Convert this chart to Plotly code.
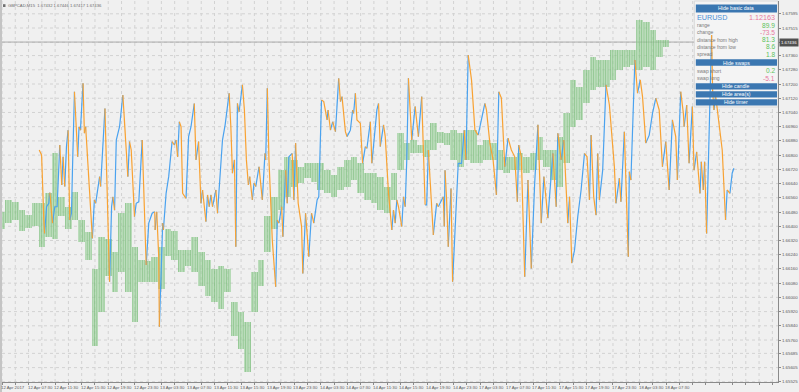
import plotly.graph_objects as go

# ---------------- data ----------------
# hourly bar envelope of GBPCAD (x = hours since 12 Apr 03:30, weekend removed)
bar_hours = list(range(101))
bar_high = [1.66483,1.66550,1.66539,1.66494,1.66466,1.66533,1.66533,1.66589,1.66814,1.66567,
            1.66511,1.66595,1.66438,1.66365,1.66157,1.66342,1.66326,1.66253,1.66477,1.66533,
            1.66286,1.66213,1.66202,1.66225,1.66286,1.66382,1.66371,1.66269,1.66269,1.66342,
            1.66253,1.66213,1.66157,1.66174,1.66157,1.65972,1.65916,1.65860,1.66140,1.66213,
            1.66455,1.66567,1.66719,1.66792,1.66775,1.66735,1.66758,1.66758,1.66758,1.66719,
            1.66691,1.66735,1.66775,1.66792,1.66758,1.66702,1.66702,1.66679,1.66623,1.66702,
            1.66926,1.66870,1.66887,1.66859,1.66887,1.66982,1.66932,1.66926,1.66943,1.66926,
            1.66943,1.66943,1.66859,1.66887,1.66870,1.66831,1.66792,1.66792,1.66814,1.66792,
            1.66814,1.66904,1.66831,1.66831,1.66904,1.67039,1.67224,1.67185,1.67280,1.67353,
            1.67336,1.67336,1.67392,1.67392,1.67392,1.67392,1.67561,1.67549,1.67505,1.67448,
            1.67448]
bar_low = [1.66382,1.66421,1.66438,1.66371,1.66393,1.66399,1.66281,1.66342,1.66326,1.66455,
           1.66382,1.66438,1.66314,1.66213,1.65725,1.65916,1.66118,1.66028,1.66140,1.66028,
           1.65860,1.66084,1.66084,1.66084,1.66045,1.66230,1.66213,1.66140,1.66174,1.66140,
           1.66062,1.66006,1.65972,1.65933,1.66028,1.65781,1.65708,1.65579,1.65916,1.66062,
           1.66253,1.66382,1.66494,1.66567,1.66623,1.66646,1.66674,1.66651,1.66606,1.66589,
           1.66567,1.66606,1.66623,1.66662,1.66589,1.66550,1.66533,1.66494,1.66477,1.66550,
           1.66719,1.66775,1.66814,1.66814,1.66792,1.66831,1.66870,1.66859,1.66775,1.66735,
           1.66775,1.66758,1.66758,1.66775,1.66775,1.66719,1.66702,1.66719,1.66719,1.66702,
           1.66719,1.66775,1.66735,1.66662,1.66623,1.66758,1.66960,1.66999,1.67095,1.67168,
           1.67185,1.67185,1.67224,1.67280,1.67297,1.67308,1.67280,1.67297,1.67280,1.67353,
           1.67409]

# overlay oscillator (EURUSD), 0-100 scale
osc_x = [5.60,5.96,6.30,6.41,6.71,7.05,7.20,7.50,7.61,7.95,8.30,8.70,9.00,9.20,9.45,9.71,9.95,10.20,10.46,10.61,
         10.91,11.10,11.40,11.60,11.81,12.20,12.41,12.60,12.80,13.10,13.61,13.91,14.10,14.70,14.85,15.30,15.50,15.80,16.20,16.50,
         16.70,16.95,17.21,17.70,18.20,18.60,18.95,19.20,19.46,19.95,20.21,20.60,21.11,21.30,21.71,22.10,22.61,23.00,23.06,23.30,
         23.60,23.70,23.96,24.20,24.30,24.71,25.10,25.61,25.95,26.21,26.45,26.70,26.96,27.20,27.71,28.10,28.46,28.95,29.21,29.60,
         29.96,30.20,30.71,30.95,31.20,31.46,31.70,32.21,32.45,32.70,33.20,33.60,34.20,34.46,34.70,35.00,35.21,35.45,35.70,36.20,
         36.50,36.80,37.10,37.31,37.70,37.95,38.21,38.70,39.20,39.60,39.71,39.95,40.20,40.70,41.21,41.45,41.70,42.11,42.30,42.71,
         42.95,43.20,43.70,43.95,44.21,44.60,45.11,45.30,45.71,46.20,46.61,46.95,47.45,47.70,48.11,48.45,48.95,49.10,49.46,49.80,
         50.21,50.70,50.96,51.20,51.71,51.95,52.46,52.80,52.95,53.21,53.45,53.96,54.30,54.71,54.95,55.46,55.70,56.45,56.70,56.96,
         57.45,57.71,58.20,58.70,58.95,59.21,59.45,59.70,60.20,60.45,60.71,60.95,61.20,61.70,62.21,62.70,63.20,63.45,63.71,63.95,
         64.20,64.70,64.95,65.45,65.70,66.45,66.60,66.71,66.95,67.20,67.61,67.85,68.21,68.70,69.20,69.60,69.86,70.20,70.70,71.21,
         71.70,72.71,72.95,73.46,73.95,74.45,74.81,75.20,75.71,76.20,76.70,77.21,77.60,77.81,78.20,78.71,79.20,79.70,80.21,80.70,
         81.20,81.60,82.20,82.95,83.45,83.70,84.20,84.60,85.20,85.46,85.80,86.21,86.70,87.20,87.71,88.10,88.46,88.70,89.10,89.45,
         89.70,89.96,90.45,90.95,91.46,92.21,92.45,92.96,93.20,93.71,94.10,94.31,94.46,94.70,95.21,95.30,95.70,96.11,96.45,96.95,
         97.46,97.95,98.45,98.96,99.45,99.95,100.46,100.95,101.45,101.70,102.20,102.60,102.71,103.10,103.46,103.95,104.21,104.60,105.11,105.30,
         105.60,105.80,106.10,106.85,107.00,107.21,107.45,107.96,108.45,108.95,109.20,109.61,109.95,110.21]
osc_v = [60.9,59.6,42.5,39.0,46.0,46.9,49.7,43.4,41.7,46.0,46.0,62.2,51.7,59.1,51.3,61.8,66.1,42.5,44.3,55.6,
         76.2,68.8,59.1,67.0,66.1,78.4,65.3,67.0,61.8,53.0,37.7,47.8,46.9,53.9,51.3,67.0,71.8,53.9,26.3,46.0,
         48.6,45.1,63.5,67.0,75.3,65.3,53.9,63.1,60.9,43.4,46.9,47.3,63.5,53.0,30.7,41.7,44.3,44.7,39.9,44.7,
         32.9,14.5,32.0,41.7,39.9,49.5,53.9,63.1,62.2,63.5,59.1,68.3,67.0,49.5,48.2,64.4,67.0,73.1,58.3,63.1,
         46.9,50.4,42.1,49.1,46.0,49.1,46.0,50.4,44.3,51.3,63.5,67.5,75.8,67.0,54.8,58.3,35.5,73.1,70.9,78.0,
         71.4,58.3,51.7,53.9,47.8,52.2,51.3,56.5,47.8,60.0,58.3,77.1,58.3,37.3,25.0,42.5,41.7,46.0,38.1,55.6,
         46.9,59.1,60.0,47.8,62.7,46.9,40.8,28.5,44.3,32.9,44.3,41.7,47.8,48.6,74.0,73.6,68.8,71.4,66.1,68.3,
         65.7,79.7,73.6,74.9,65.7,64.4,66.1,71.4,70.5,75.8,68.8,67.9,57.4,61.8,61.3,68.3,57.4,71.4,73.1,61.8,
         67.5,64.4,49.5,39.9,45.1,41.7,47.8,46.0,40.8,48.6,46.0,58.3,79.7,63.5,72.3,64.4,74.9,58.3,46.5,46.5,
         60.9,47.8,38.6,46.9,46.0,48.6,40.8,55.6,47.8,35.5,50.8,26.3,39.0,57.4,57.4,66.1,58.3,85.8,79.3,66.1,
         64.8,73.1,71.4,62.7,58.3,49.1,76.2,74.5,56.5,64.0,60.9,59.1,47.3,62.2,59.1,27.6,53.0,29.8,52.2,67.5,
         41.7,53.9,43.0,60.0,46.0,65.3,58.3,63.5,41.7,48.6,31.2,34.6,43.4,50.4,60.0,59.1,47.8,64.8,48.6,43.8,
         60.0,47.8,55.6,78.0,72.7,56.5,46.9,53.5,47.3,65.7,46.9,32.9,55.2,53.0,81.9,84.5,75.8,79.3,74.9,62.7,
         64.8,70.5,74.5,71.4,56.5,63.1,50.4,68.8,64.4,53.0,76.2,70.5,67.0,72.7,57.4,72.3,55.6,60.4,49.5,57.8,
         50.4,57.8,39.0,91.1,76.6,71.4,75.3,67.9,60.9,42.5,50.4,49.5,54.8,56.1]

time_labels = ["12 Apr 2017","12 Apr 07:30","12 Apr 11:30","12 Apr 15:30","12 Apr 19:30","12 Apr 23:30",
               "13 Apr 03:30","13 Apr 07:30","13 Apr 11:30","13 Apr 15:30","13 Apr 19:30","13 Apr 23:30",
               "14 Apr 03:30","14 Apr 07:30","14 Apr 11:30","14 Apr 15:30","14 Apr 19:30","14 Apr 23:30",
               "17 Apr 03:30","17 Apr 07:30","17 Apr 11:30","17 Apr 15:30","17 Apr 19:30","17 Apr 23:30",
               "18 Apr 03:30","18 Apr 07:30"]
time_label_hours = [4 * k for k in range(len(time_labels))]
grid_hours = list(range(0, 118, 2))

price_ticks = [1.67595,1.67515,1.67435,1.67360,1.67280,1.67200,1.67120,1.67040,1.66960,1.66880,
               1.66800,1.66720,1.66640,1.66560,1.66480,1.66400,1.66320,1.66240,1.66160,1.66080,
               1.66000,1.65920,1.65840,1.65760,1.65685,1.65605,1.65525]
price_tick_text = ["%.5f" % p for p in price_ticks]
price_tick_text[2] = ""
last_price = 1.67436

panel_rows = [("range", "89.9", "g"), ("change", "-73.5", "r"), ("distance from high", "81.3", "g"),
              ("distance from low", "8.6", "g"), ("spread", "1.8", "g")]
swap_rows = [("swap short", "0.2", "g"), ("swap long", "-5.1", "r")]

# ---------------- figure ----------------
W, H = 799, 392
ML, MR, MT, MB = 2, 18, 1, 10
PW, PH = W - ML - MR, H - MT - MB


def PX(px):
    return (px - ML) / PW


def PY(py):
    return (H - MB - py) / PH


BG = "#f0f0f0"
BLUE = "#4aa2ef"
ORANGE = "#f8a233"
GREEN_TXT = "#5cc25c"
PINK_TXT = "#e7799f"
BTN = "#3b77b1"
GRID = "#d2d2d2"
FONT = "Liberation Sans"

fig = go.Figure()

fig.add_trace(go.Bar(
    x=bar_hours, base=bar_low, y=[h - l for h, l in zip(bar_high, bar_low)],
    width=1.0,
    marker=dict(color="rgba(160,212,160,0.6)", line=dict(width=0),
                pattern=dict(shape="|", fgcolor="rgba(88,170,88,0.9)", bgcolor="rgba(160,212,160,0.6)",
                             size=2.4, solidity=0.4, fillmode="overlay")),
    showlegend=False, hoverinfo="skip"))

# colour the oscillator by direction: rising = blue, falling = orange
runs = []
for i in range(len(osc_x) - 1):
    up = osc_v[i + 1] >= osc_v[i]
    if runs and runs[-1][0] == up:
        runs[-1][1].append(i + 1)
    else:
        runs.append([up, [i, i + 1]])
bx, by, ox, oy = [], [], [], []
for up, idx in runs:
    tx, ty = (bx, by) if up else (ox, oy)
    tx += [osc_x[j] for j in idx] + [None]
    ty += [osc_v[j] for j in idx] + [None]
fig.add_trace(go.Scatter(x=bx, y=by, mode="lines", yaxis="y2",
                         line=dict(color=BLUE, width=1.2), showlegend=False, hoverinfo="skip"))
fig.add_trace(go.Scatter(x=ox, y=oy, mode="lines", yaxis="y2",
                         line=dict(color=ORANGE, width=1.2), showlegend=False, hoverinfo="skip"))

shapes = []
annotations = []

# dotted grid (drawn as shapes so that the panel can cover it)
for gx in grid_hours:
    shapes.append(dict(type="line", xref="x", yref="paper", x0=gx, x1=gx, y0=0, y1=1,
                       line=dict(color=GRID, width=1, dash="dot"), layer="below"))
for gy in price_ticks:
    shapes.append(dict(type="line", xref="paper", yref="y", x0=0, x1=1, y0=gy, y1=gy,
                       line=dict(color=GRID, width=1, dash="dot"), layer="below"))

# current price line
shapes.append(dict(type="line", xref="paper", x0=0, x1=1, yref="y", y0=last_price, y1=last_price,
                   line=dict(color="#ababab", width=1), layer="below"))
# left border
shapes.append(dict(type="rect", xref="paper", yref="paper", x0=PX(0), x1=PX(2), y0=PY(392), y1=PY(0),
                   fillcolor="#c4c4c4", line=dict(width=0)))

# info panel
shapes.append(dict(type="rect", xref="paper", yref="paper", x0=PX(697), x1=PX(781), y0=PY(107), y1=PY(1),
                   fillcolor="#f4f4f4", line=dict(color="#dadada", width=1), layer="below"))


def button(text, y0, y1):
    shapes.append(dict(type="rect", xref="paper", yref="paper", x0=PX(698.5), x1=PX(780), y0=PY(y1), y1=PY(y0),
                       fillcolor=BTN, line=dict(width=0), layer="above"))
    annotations.append(dict(xref="paper", yref="paper", x=PX(739), y=PY((y0 + y1) / 2), text=text,
                            showarrow=False, font=dict(family=FONT, size=5.2, color="white"),
                            xanchor="center", yanchor="middle", borderpad=0))


button("Hide basic data", 4.5, 12.5)
annotations.append(dict(xref="paper", yref="paper", x=PX(699), y=PY(17.5), text="EURUSD", showarrow=False,
                        font=dict(family=FONT, size=7.2, color="#4b8fd6"), xanchor="left", yanchor="middle",
                        borderpad=0))
annotations.append(dict(xref="paper", yref="paper", x=PX(779), y=PY(17.5), text="1.12163", showarrow=False,
                        font=dict(family=FONT, size=7.2, color=PINK_TXT), xanchor="right", yanchor="middle",
                        borderpad=0))


def row(label, value, col, py):
    annotations.append(dict(xref="paper", yref="paper", x=PX(699), y=PY(py), text=label, showarrow=False,
                            font=dict(family=FONT, size=5, color="#7a7a7a"), xanchor="left",
                            yanchor="middle", borderpad=0))
    annotations.append(dict(xref="paper", yref="paper", x=PX(779), y=PY(py), text=value, showarrow=False,
                            font=dict(family=FONT, size=6.6, color=GREEN_TXT if col == "g" else PINK_TXT),
                            xanchor="right", yanchor="middle", borderpad=0))


for k, (lab, val, col) in enumerate(panel_rows):
    row(lab, val, col, 25 + 7.3 * k)
button("Hide swaps", 59.3, 65.7)
for k, (lab, val, col) in enumerate(swap_rows):
    row(lab, val, col, 70.7 + 7.6 * k)
button("Hide candle", 83.3, 89.5)
button("Hide area(s)", 91.3, 97.5)
button("Hide timer", 99.2, 105.5)

# price tag on axis
annotations.append(dict(xref="paper", yref="y", x=PX(782), y=last_price, text="1.67436", showarrow=False,
                        font=dict(family=FONT, size=4.3, color="white"), bgcolor="#505050",
                        xanchor="left", yanchor="middle", borderpad=1))
# chart caption
shapes.append(dict(type="rect", xref="paper", yref="paper", x0=PX(3), x1=PX(5.5), y0=PY(7), y1=PY(4.2),
                   fillcolor="#707070", line=dict(width=0)))
annotations.append(dict(xref="paper", yref="paper", x=PX(7), y=PY(5.6),
                        text="GBPCAD,M15  1.67432 1.67446 1.67417 1.67436", showarrow=False,
                        font=dict(family=FONT, size=4.2, color="#6a6a6a"), xanchor="left", yanchor="middle",
                        borderpad=0))
# time labels
for hx, lab in zip(time_label_hours, time_labels):
    annotations.append(dict(xref="x", yref="paper", x=hx, y=0, text=lab, showarrow=False,
                            font=dict(family=FONT, size=4.3, color="#5a5a5a"), xanchor="left", yanchor="top",
                            xshift=-2, yshift=-2, borderpad=0))

fig.update_layout(
    width=W, height=H, margin=dict(l=ML, r=MR, t=MT, b=MB),
    paper_bgcolor=BG, plot_bgcolor=BG, bargap=0, showlegend=False,
    xaxis=dict(range=[0, PW * 0.15], tickvals=grid_hours, showticklabels=False,
               ticks="outside", ticklen=2, tickcolor="#8a8a8a", showgrid=False,
               zeroline=False, showline=True, linecolor="#8a8a8a", linewidth=1),
    yaxis=dict(range=[1.65524, 1.67667], side="right", tickvals=price_ticks, ticktext=price_tick_text,
               tickfont=dict(family=FONT, size=4.4, color="#5a5a5a"), ticks="outside", ticklen=2,
               tickcolor="#8a8a8a", showgrid=False,
               zeroline=False, showline=True, linecolor="#8a8a8a", linewidth=1),
    yaxis2=dict(range=[0, 100], overlaying="y", visible=False),
    shapes=shapes, annotations=annotations,
)

fig.write_html("out.html")
